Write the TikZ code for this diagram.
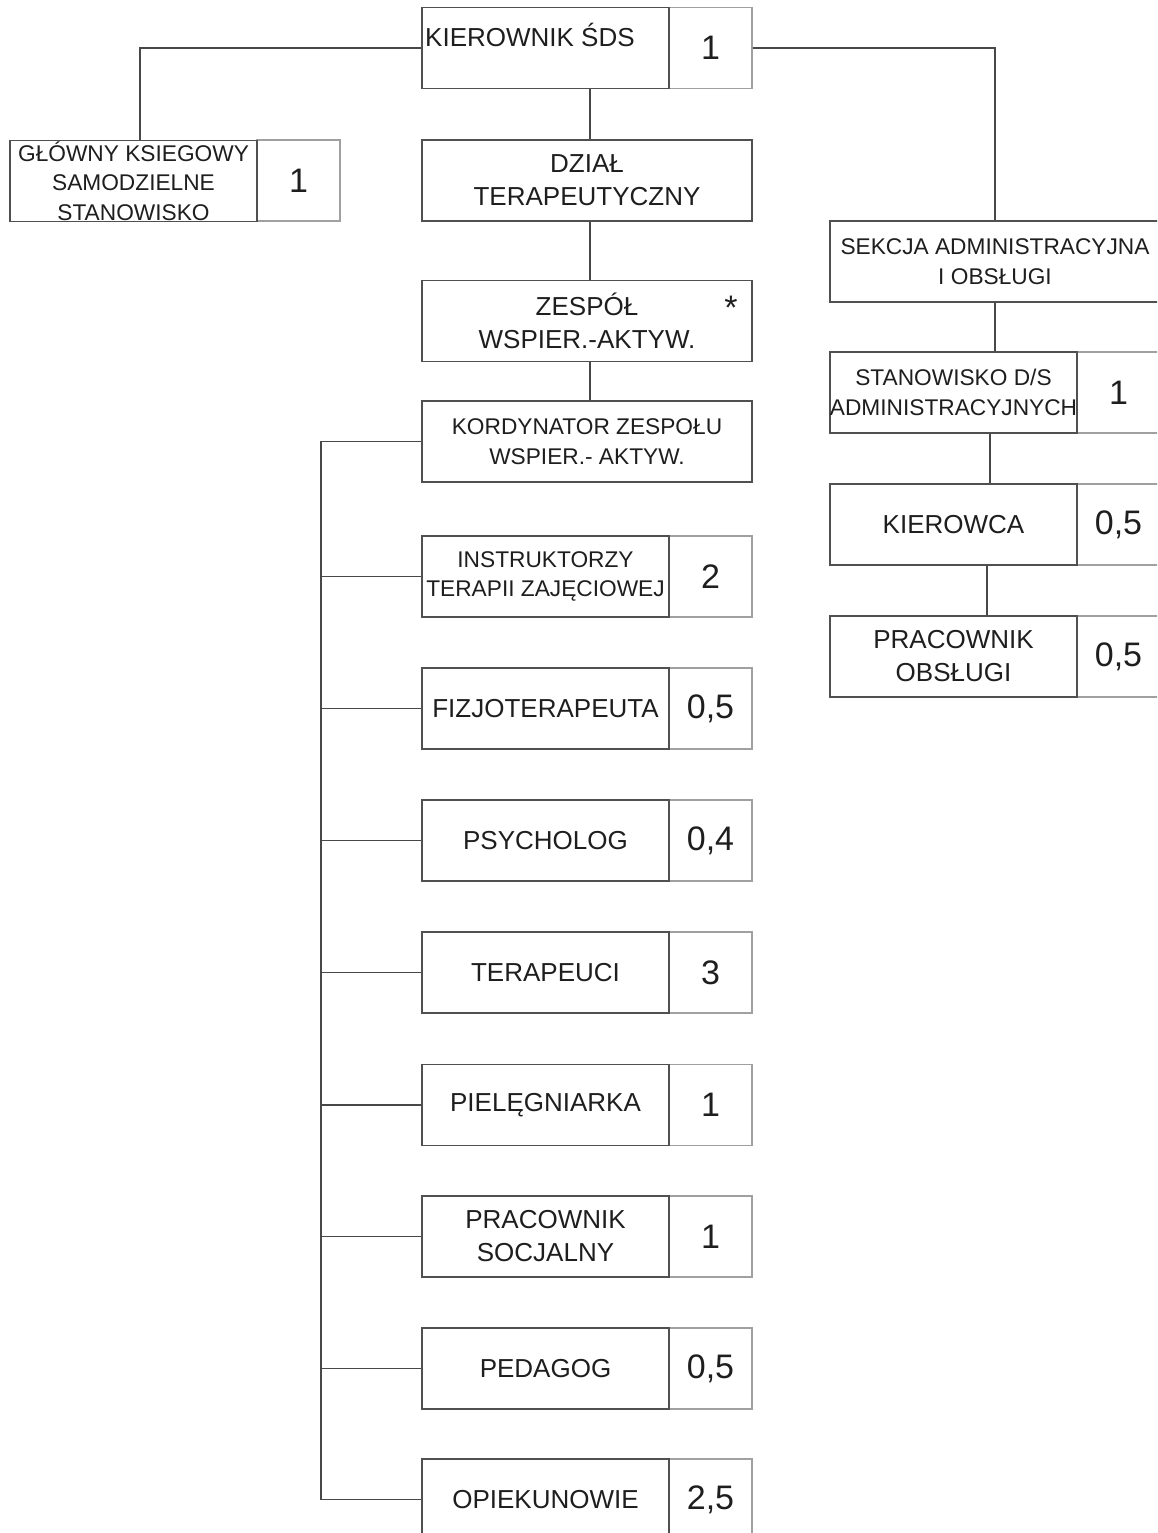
\documentclass[tikz,border=0pt]{standalone}
\usepackage{fontspec}
\setmainfont{Liberation Sans}
\definecolor{boxgray}{HTML}{505050}
\definecolor{numgray}{HTML}{A0A0A0}
\definecolor{linegray}{HTML}{484848}
\definecolor{txt}{HTML}{1E1E1E}
\newcommand\fmain{\fontsize{26}{33}\selectfont}
\newcommand\fsmall{\fontsize{22.7}{29.5}\selectfont}
\newcommand\fnum{\fontsize{34}{40}\selectfont}
\tikzset{
  mainbox/.style={draw=boxgray, line width=1.5pt, minimum width=247pt, minimum height=81pt, inner sep=0pt, align=center, font=\fmain, text=txt},
  widebox/.style={mainbox, minimum width=330pt},
  numbox/.style={draw=numgray, line width=1.5pt, minimum width=83pt, minimum height=81pt, inner sep=0pt, font=\fnum, text=txt},
  conn/.style={draw=linegray, line width=1.5pt},
  plain/.style={inner sep=0pt, text=txt}
}
\begin{document}
\begin{tikzpicture}[x=1pt,y=-1pt]
\useasboundingbox (0,0) rectangle (1157,1533);
\fill[white] (0,0) rectangle (1157,1533);
\clip (0,0) rectangle (1157,1533);

% top
\node[numbox] (kiern) at (710.5,48) {1};
\node[mainbox] (kier) at (545.5,48) {};
\node[plain, anchor=base west, font=\fmain] (kiert) at (425,47) {KIEROWNIK ŚDS};

% left
\node[numbox] (glown) at (298.5,180.5) {1};
\node[mainbox, font=\fsmall, text depth=0pt] (glow) at (133.5,181) {GŁÓWNY KSIEGOWY\\SAMODZIELNE\\STANOWISKO};

% centre column
\node[widebox] (dzial) at (587,180.5) {DZIAŁ\\TERAPEUTYCZNY};
\node[widebox] (zesp) at (587,321) {ZESPÓŁ\\WSPIER.-AKTYW.};
\node[plain, font=\fnum] (star) at (731,308) {*};
\node[widebox, font=\fsmall] (kord) at (587,441.5) {KORDYNATOR ZESPOŁU\\WSPIER.- AKTYW.};

% children
\node[numbox] (instrn) at (710.5,576.5) {2};
\node[mainbox, font=\fsmall] (instr) at (545.5,576.5) {INSTRUKTORZY\\TERAPII ZAJĘCIOWEJ};
\node[numbox] (fizjon) at (710.5,708.5) {0,5};
\node[mainbox] (fizjo) at (545.5,708.5) {FIZJOTERAPEUTA};
\node[numbox] (psychn) at (710.5,840.5) {0,4};
\node[mainbox] (psych) at (545.5,840.5) {PSYCHOLOG};
\node[numbox] (terapn) at (710.5,972.5) {3};
\node[mainbox] (terap) at (545.5,972.5) {TERAPEUCI};
\node[numbox] (pieln) at (710.5,1105) {1};
\node[mainbox] (piel) at (545.5,1105) {PIELĘGNIARKA};
\node[numbox] (socjn) at (710.5,1236.5) {1};
\node[mainbox] (socj) at (545.5,1236.5) {PRACOWNIK\\SOCJALNY};
\node[numbox] (pedan) at (710.5,1368.5) {0,5};
\node[mainbox] (peda) at (545.5,1368.5) {PEDAGOG};
\node[numbox] (opiekn) at (710.5,1499.5) {2,5};
\node[mainbox] (opiek) at (545.5,1499.5) {OPIEKUNOWIE};

% right column
\node[widebox, font=\fsmall] (sekc) at (995,261.5) {SEKCJA ADMINISTRACYJNA\\I OBSŁUGI};
\node[numbox] (stann) at (1118.5,392.5) {1};
\node[mainbox, font=\fsmall] (stan) at (953.5,392.5) {STANOWISKO D/S\\ADMINISTRACYJNYCH};
\node[numbox] (kierowcan) at (1118.5,524.5) {0,5};
\node[mainbox] (kierowca) at (953.5,524.5) {KIEROWCA};
\node[numbox] (pracobn) at (1118.5,656.5) {0,5};
\node[mainbox] (pracob) at (953.5,656.5) {PRACOWNIK\\OBSŁUGI};

% connectors
\draw[conn] (kier.west) -| ([xshift=6.5pt]glow.north);
\draw[conn] (kiern.east) -| (sekc.north);
\draw[conn] ([xshift=3pt]dzial.north) -- ([xshift=3pt]dzial.north |- kier.south);
\draw[conn] ([xshift=3pt]dzial.south) -- ([xshift=3pt]zesp.north);
\draw[conn] ([xshift=3pt]zesp.south) -- ([xshift=3pt]kord.north);
\coordinate (busx) at (321,0);
\draw[conn] (kord.west) -- (kord.west -| busx) -- (opiek.west -| busx) -- (opiek.west);
\foreach \c in {instr,fizjo,psych,terap,piel,socj,peda}
  \draw[conn] (\c.west -| busx) -- (\c.west);
\draw[conn] (sekc.south) -- (sekc.south |- stan.north);
\draw[conn] ([xshift=36.5pt]stan.south) -- ([xshift=36.5pt]kierowca.north);
\draw[conn] ([xshift=33.5pt]kierowca.south) -- ([xshift=33.5pt]pracob.north);
\end{tikzpicture}
\end{document}
